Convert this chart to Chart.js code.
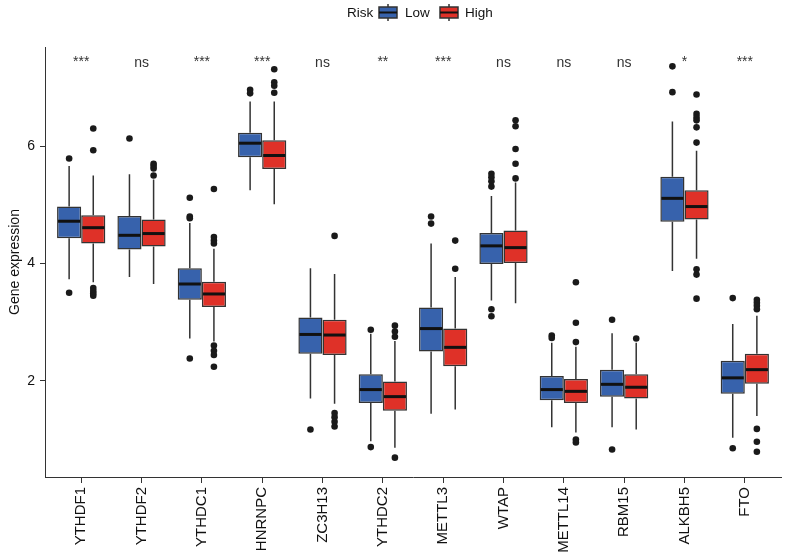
<!DOCTYPE html>
<html>
<head>
<meta charset="utf-8">
<script src="https://cdn.jsdelivr.net/npm/chart.js@4.4.1/dist/chart.umd.min.js"></script>
<style>
  html, body { margin: 0; padding: 0; background: #fff; }
  #wrap { width: 787px; height: 553px; }
</style>
</head>
<body>
<div id="wrap"><canvas id="chart" width="787" height="553"></canvas></div>
<script>
const genes = ['YTHDF1', 'YTHDF2', 'YTHDC1', 'HNRNPC', 'ZC3H13', 'YTHDC2',
               'METTL3', 'WTAP', 'METTL14', 'RBM15', 'ALKBH5', 'FTO'];

// per gene: [lower whisker, Q1, median, Q3, upper whisker]
const lowStats = [
  [3.73, 4.43, 4.72, 4.97, 5.66],
  [3.77, 4.24, 4.48, 4.81, 5.52],
  [2.72, 3.38, 3.65, 3.92, 4.69],
  [5.25, 5.81, 6.05, 6.23, 6.76],
  [1.70, 2.46, 2.79, 3.08, 3.92],
  [0.97, 1.62, 1.85, 2.11, 2.80],
  [1.44, 2.50, 2.89, 3.25, 4.34],
  [3.37, 3.99, 4.30, 4.52, 5.15],
  [1.21, 1.67, 1.85, 2.08, 2.65],
  [1.21, 1.73, 1.94, 2.19, 2.81],
  [3.87, 4.71, 5.11, 5.48, 6.42],
  [1.03, 1.78, 2.05, 2.34, 2.97]
];
const highStats = [
  [3.68, 4.34, 4.61, 4.82, 5.50],
  [3.65, 4.29, 4.51, 4.75, 5.43],
  [2.67, 3.26, 3.48, 3.69, 4.25],
  [5.01, 5.61, 5.84, 6.10, 6.76],
  [1.61, 2.44, 2.78, 3.04, 3.82],
  [0.86, 1.49, 1.73, 1.99, 2.68],
  [1.51, 2.25, 2.57, 2.89, 3.77],
  [3.32, 4.01, 4.27, 4.56, 5.38],
  [1.12, 1.62, 1.82, 2.03, 2.58],
  [1.17, 1.70, 1.89, 2.11, 2.65],
  [4.08, 4.75, 4.97, 5.25, 5.92],
  [1.40, 1.95, 2.19, 2.46, 3.11]
];

const lowOutliers = [
  [5.79, 3.50],
  [6.13],
  [5.12, 4.80, 4.77, 2.38],
  [6.96, 6.90],
  [1.17],
  [2.87, 0.87],
  [4.80, 4.68],
  [5.53, 5.47, 5.40, 5.31, 3.22, 3.10],
  [2.77, 2.73],
  [3.04, 0.83],
  [7.36, 6.92],
  [3.41, 0.85]
];
const highOutliers = [
  [6.30, 5.93, 3.58, 3.53, 3.49, 3.45],
  [5.70, 5.66, 5.62, 5.50],
  [5.27, 4.45, 4.39, 4.34, 2.60, 2.51, 2.44, 2.24],
  [7.31, 7.09, 7.03, 6.91],
  [4.47, 1.45, 1.38, 1.30, 1.22],
  [2.94, 2.84, 2.75, 0.69],
  [4.39, 3.91],
  [6.44, 6.34, 5.95, 5.70, 5.45],
  [3.68, 2.99, 2.66, 1.00, 0.95],
  [2.72],
  [6.88, 6.55, 6.49, 6.44, 6.32, 6.06, 3.90, 3.81, 3.40],
  [3.38, 3.33, 3.28, 3.22, 1.18, 0.96, 0.79]
];

const signif = ['***', 'ns', '***', '***', 'ns', '**', '***', 'ns', 'ns', 'ns', '*', '***'];
const yTicks = [2, 4, 6];

const BLUE = '#3762ac';
const RED = '#df3128';
const INK = '#333333';
const FONT = "'Liberation Sans', Arial, Helvetica, sans-serif";
const DODGE = 0.2;

function outlierPoints(list, shift) {
  const pts = [];
  list.forEach((vals, i) => vals.forEach(v => pts.push({ x: i + shift, y: v })));
  return pts;
}

function drawKey(ctx, x, color) {
  ctx.save();
  ctx.strokeStyle = INK;
  ctx.lineWidth = 1.5;
  ctx.beginPath();
  ctx.moveTo(x + 9, 4); ctx.lineTo(x + 9, 21);
  ctx.stroke();
  ctx.fillStyle = color;
  ctx.fillRect(x, 7, 18, 11);
  ctx.strokeRect(x, 7, 18, 11);
  ctx.lineWidth = 2;
  ctx.strokeStyle = '#111';
  ctx.beginPath();
  ctx.moveTo(x, 12.5); ctx.lineTo(x + 18, 12.5);
  ctx.stroke();
  ctx.restore();
}

const boxParts = {
  id: 'boxParts',
  beforeDatasetsDraw(chart) {
    const ctx = chart.ctx, y = chart.scales.y;
    [lowStats, highStats].forEach((stats, d) => {
      const meta = chart.getDatasetMeta(d);
      ctx.save();
      ctx.strokeStyle = INK;
      ctx.lineWidth = 1.5;
      meta.data.forEach((bar, i) => {
        const s = stats[i];
        ctx.beginPath();
        ctx.moveTo(bar.x, y.getPixelForValue(s[0]));
        ctx.lineTo(bar.x, y.getPixelForValue(s[1]));
        ctx.moveTo(bar.x, y.getPixelForValue(s[3]));
        ctx.lineTo(bar.x, y.getPixelForValue(s[4]));
        ctx.stroke();
      });
      ctx.restore();
    });
  },
  afterDatasetDraw(chart, args) {
    if (args.index > 1) return;
    const stats = args.index === 0 ? lowStats : highStats;
    const ctx = chart.ctx, y = chart.scales.y;
    ctx.save();
    ctx.strokeStyle = '#111';
    ctx.lineWidth = 3;
    args.meta.data.forEach((bar, i) => {
      const py = y.getPixelForValue(stats[i][2]);
      ctx.beginPath();
      ctx.moveTo(bar.x - bar.width / 2 + 1, py);
      ctx.lineTo(bar.x + bar.width / 2 - 1, py);
      ctx.stroke();
    });
    ctx.restore();
  },
  afterDraw(chart) {
    const ctx = chart.ctx, x = chart.scales.x;
    ctx.save();
    ctx.fillStyle = INK;
    ctx.font = `14px ${FONT}`;
    ctx.textAlign = 'center';
    ctx.textBaseline = 'alphabetic';
    signif.forEach((s, i) => {
      const yy = s === 'ns' ? chart.chartArea.top + 20 : chart.chartArea.top + 19;
      ctx.fillText(s, x.getPixelForValue(i), yy);
    });

    // legend
    ctx.fillStyle = '#111';
    ctx.font = `13.5px ${FONT}`;
    ctx.textAlign = 'left';
    ctx.textBaseline = 'middle';
    ctx.fillText('Risk', 347, 13);
    drawKey(ctx, 379, BLUE);
    ctx.fillStyle = '#111';
    ctx.fillText('Low', 405, 13);
    drawKey(ctx, 440, RED);
    ctx.fillStyle = '#111';
    ctx.fillText('High', 465, 13);
    ctx.restore();
  }
};

new Chart(document.getElementById('chart'), {
  type: 'bar',
  data: {
    datasets: [
      {
        label: 'Low',
        data: lowStats.map((s, i) => ({ x: i, y: [s[1], s[3]] })),
        backgroundColor: BLUE,
        borderColor: INK,
        borderWidth: 1.5,
        borderSkipped: false,
        categoryPercentage: 0.8,
        barPercentage: 1.0
      },
      {
        label: 'High',
        data: highStats.map((s, i) => ({ x: i, y: [s[1], s[3]] })),
        backgroundColor: RED,
        borderColor: INK,
        borderWidth: 1.5,
        borderSkipped: false,
        categoryPercentage: 0.8,
        barPercentage: 1.0
      },
      {
        type: 'scatter',
        label: 'outliers',
        data: outlierPoints(lowOutliers, -DODGE).concat(outlierPoints(highOutliers, DODGE)),
        backgroundColor: '#1a1a1a',
        borderWidth: 0,
        pointRadius: 3.3
      }
    ]
  },
  options: {
    responsive: false,
    animation: false,
    devicePixelRatio: 1,
    layout: { padding: { top: 47, right: 6, left: 0, bottom: 0 } },
    plugins: { legend: { display: false }, tooltip: { enabled: false } },
    scales: {
      x: {
        type: 'linear',
        offset: false,
        min: -0.6,
        max: 11.6,
        afterBuildTicks: s => { s.ticks = genes.map((g, i) => ({ value: i })); },
        afterFit: s => { s.height = 76; },
        grid: { display: true, offset: false, drawOnChartArea: false, drawTicks: true, tickLength: 6, color: INK, lineWidth: 1 },
        border: { display: true, color: INK, width: 1 },
        ticks: {
          autoSkip: false,
          maxRotation: 90,
          minRotation: 90,
          padding: 4,
          color: '#111',
          font: { family: FONT, size: 15 },
          callback: v => genes[v]
        }
      },
      y: {
        min: 0.36,
        max: 7.69,
        afterBuildTicks: s => { s.ticks = yTicks.map(v => ({ value: v })); },
        afterFit: s => { s.width = 45; },
        grid: { display: true, drawOnChartArea: false, drawTicks: true, tickLength: 5, color: INK, lineWidth: 1 },
        border: { display: true, color: INK, width: 1 },
        title: {
          display: true,
          text: 'Gene expression',
          color: '#111',
          font: { family: FONT, size: 14 },
          padding: { top: 7, bottom: 0 }
        },
        ticks: {
          padding: 5,
          color: '#111',
          font: { family: FONT, size: 14 }
        }
      }
    }
  },
  plugins: [boxParts]
});
</script>
</body>
</html>
